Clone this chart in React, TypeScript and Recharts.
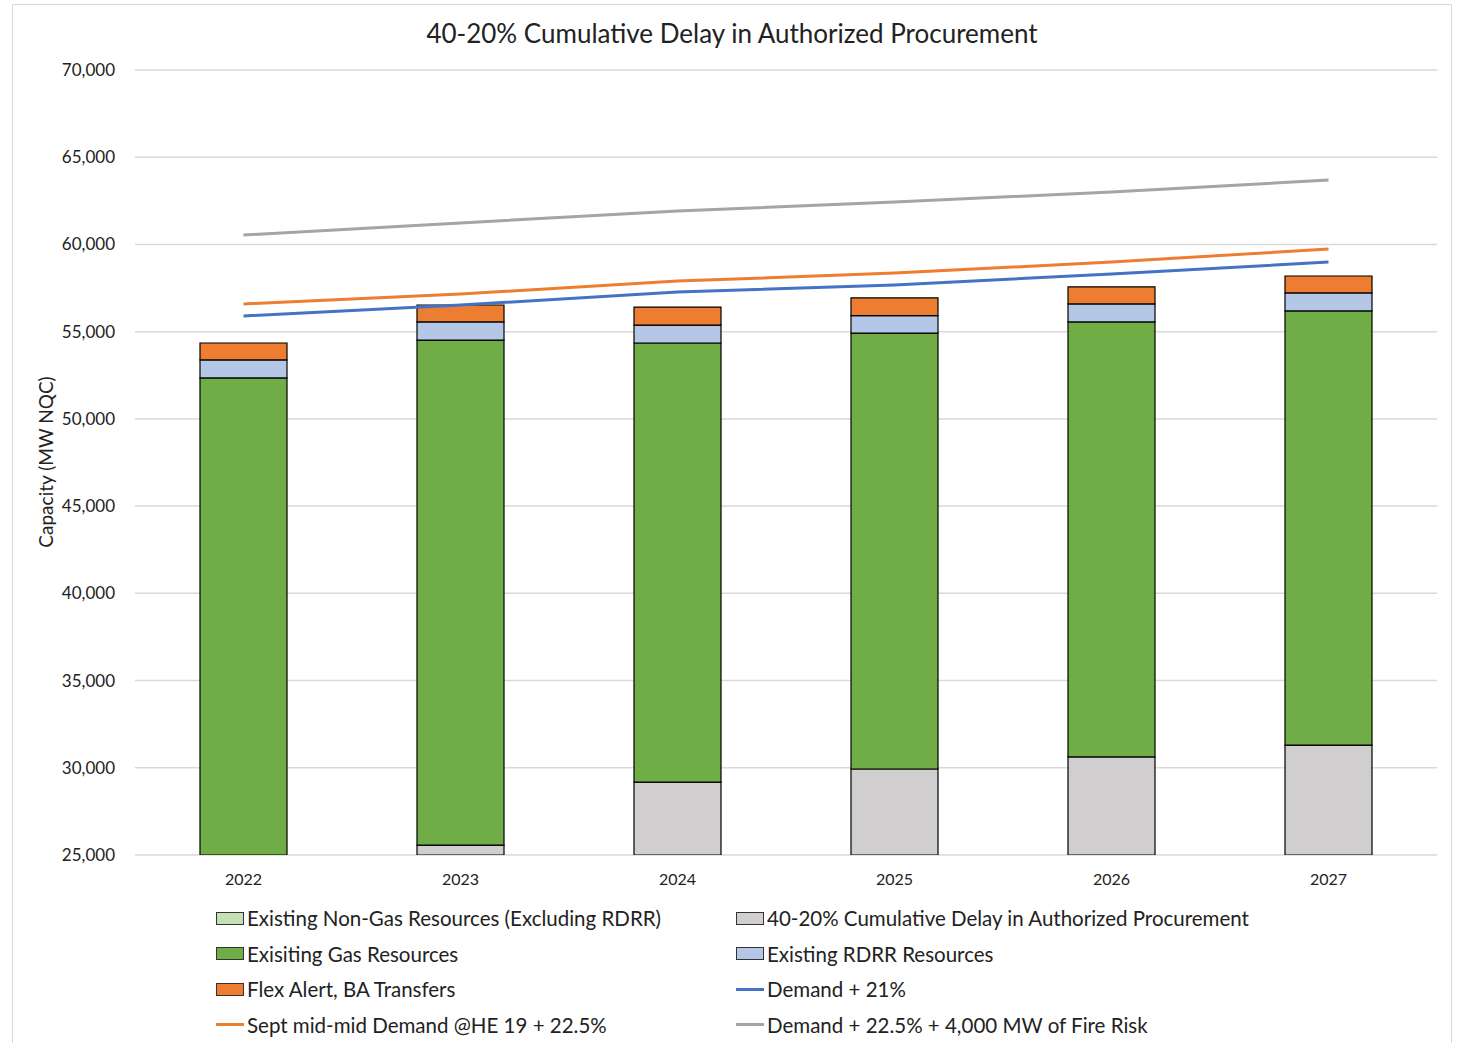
import { ComposedChart, Bar, Line, XAxis, YAxis, CartesianGrid } from 'recharts';

const years = ['2022', '2023', '2024', '2025', '2026', '2027'];

// MW NQC, stacked bottom to top
const nonGas = [23800, 24000, 24100, 24200, 24300, 24400];
const delay = [900, 1570, 5080, 5730, 6320, 6900];
const gas = [27650, 28950, 25170, 24990, 24940, 24890];
const rdrr = [1030, 1040, 1030, 1000, 1030, 1030];
const flex = [970, 970, 1030, 1020, 980, 970];

const demand21 = [55900, 56530, 57270, 57680, 58300, 58990];
const septDemand = [56590, 57160, 57900, 58360, 58990, 59740];
const fireRisk = [60540, 61230, 61920, 62430, 63010, 63690];

const yTicks = [25000, 30000, 35000, 40000, 45000, 50000, 55000, 60000, 65000, 70000];

const COLORS = {
  nonGas: '#c5e0b4',
  delay: '#d0cece',
  gas: '#70ad47',
  rdrr: '#b4c7e7',
  flex: '#ed7d31',
  demand21: '#4472c4',
  sept: '#ed7d31',
  fire: '#a5a5a5',
};

const data = years.map((y, i) => ({
  year: y,
  nonGas: nonGas[i],
  delay: delay[i],
  gas: gas[i],
  rdrr: rdrr[i],
  flex: flex[i],
  demand21: demand21[i],
  septDemand: septDemand[i],
  fireRisk: fireRisk[i],
}));

const legendItems = [
  { label: 'Existing Non-Gas Resources (Excluding RDRR)', color: COLORS.nonGas, kind: 'box' },
  { label: '40-20% Cumulative Delay in Authorized Procurement', color: COLORS.delay, kind: 'box' },
  { label: 'Exisiting Gas Resources', color: COLORS.gas, kind: 'box' },
  { label: 'Existing RDRR Resources', color: COLORS.rdrr, kind: 'box' },
  { label: 'Flex Alert, BA Transfers', color: COLORS.flex, kind: 'box' },
  { label: 'Demand + 21%', color: COLORS.demand21, kind: 'line' },
  { label: 'Sept mid-mid Demand @HE 19 + 22.5%', color: COLORS.sept, kind: 'line' },
  { label: 'Demand + 22.5% + 4,000 MW of Fire Risk', color: COLORS.fire, kind: 'line' },
];

const font = 'Lato, "Open Sans", sans-serif';

const App = () => {
  const fmt = (v: number) => v.toLocaleString('en-US');
  return (
    <div style={{ position: 'absolute', left: 0, top: 0, width: 1461, height: 1043, overflow: 'hidden', background: '#fff', fontFamily: font }}>
      <div style={{ position: 'absolute', left: 12, top: 4, width: 1438, height: 1060, border: '1px solid #d9d9d9' }} />
      <div style={{ position: 'absolute', left: 0, top: 17, width: 1464, textAlign: 'center', fontSize: 26, color: '#222' }}>
        40-20% Cumulative Delay in Authorized Procurement
      </div>
      <div
        style={{
          position: 'absolute',
          left: 45,
          top: 462,
          transform: 'translate(-50%, -50%) rotate(-90deg)',
          whiteSpace: 'nowrap',
          fontSize: 19,
          color: '#222',
        }}
      >
        Capacity (MW NQC)
      </div>
      <div style={{ position: 'absolute', left: 0, top: 0 }}>
        <ComposedChart
          width={1461}
          height={900}
          data={data}
          margin={{ top: 70, right: 24, bottom: 0, left: 0 }}
          barCategoryGap="30%"
        >
          <CartesianGrid vertical={false} stroke="#d9d9d9" strokeWidth={1.5} />
          <XAxis
            dataKey="year"
            height={45}
            tickLine={false}
            axisLine={false}
            tickMargin={13}
            tick={{ fontSize: 16, fill: '#222', fontFamily: font }}
          />
          <YAxis
            width={135}
            domain={[25000, 70000]}
            ticks={yTicks}
            allowDataOverflow
            tickLine={false}
            axisLine={false}
            tickMargin={14}
            tickFormatter={fmt}
            tick={{ fontSize: 17, fill: '#222', fontFamily: font }}
          />
          <Bar dataKey="nonGas" stackId="a" fill={COLORS.nonGas} stroke="#000" strokeWidth={1.2} barSize={87} isAnimationActive={false} />
          <Bar dataKey="delay" stackId="a" fill={COLORS.delay} stroke="#000" strokeWidth={1.2} barSize={87} isAnimationActive={false} />
          <Bar dataKey="gas" stackId="a" fill={COLORS.gas} stroke="#000" strokeWidth={1.2} barSize={87} isAnimationActive={false} />
          <Bar dataKey="rdrr" stackId="a" fill={COLORS.rdrr} stroke="#000" strokeWidth={1.2} barSize={87} isAnimationActive={false} />
          <Bar dataKey="flex" stackId="a" fill={COLORS.flex} stroke="#000" strokeWidth={1.2} barSize={87} isAnimationActive={false} />
          <Line dataKey="demand21" type="linear" stroke={COLORS.demand21} strokeWidth={3} dot={false} activeDot={false} isAnimationActive={false} />
          <Line dataKey="septDemand" type="linear" stroke={COLORS.sept} strokeWidth={3} dot={false} activeDot={false} isAnimationActive={false} />
          <Line dataKey="fireRisk" type="linear" stroke={COLORS.fire} strokeWidth={3} dot={false} activeDot={false} isAnimationActive={false} />
        </ComposedChart>
      </div>
      {legendItems.map((item, i) => {
        const col = i % 2;
        const row = Math.floor(i / 2);
        const left = col === 0 ? 216 : 736;
        const cy = 918 + row * 35.5;
        return (
          <div
            key={item.label}
            style={{ position: 'absolute', left, top: cy - 13, height: 26, display: 'flex', alignItems: 'center', whiteSpace: 'nowrap', fontSize: 20.5, color: '#222' }}
          >
            {item.kind === 'box' ? (
              <span style={{ display: 'inline-block', width: 26, height: 11, background: item.color, border: '1px solid #333', marginRight: 3 }} />
            ) : (
              <span style={{ display: 'inline-block', width: 28, height: 3, background: item.color, marginRight: 3 }} />
            )}
            <span>{item.label}</span>
          </div>
        );
      })}
    </div>
  );
};

export default App;
